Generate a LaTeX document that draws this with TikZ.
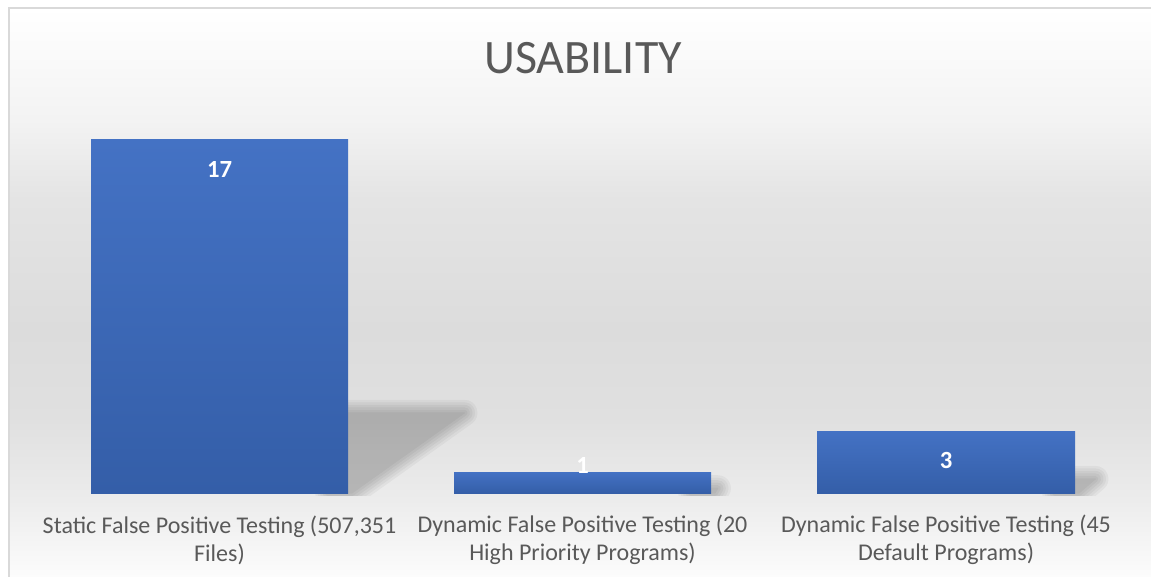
\documentclass[tikz,border=0pt]{standalone}
\usepackage{fontspec}
\setmainfont{Carlito}
\usepackage{tikz}
\usetikzlibrary{positioning}
\definecolor{barblue}{RGB}{68,114,196}
\definecolor{bardark}{RGB}{52,94,168}
\definecolor{textgray}{RGB}{89,89,89}
\definecolor{framegray}{RGB}{217,217,217}
% backdrop stops, bottom to top
\definecolor{bgbot}{RGB}{252,252,252}
\definecolor{bgA}{RGB}{236,236,236}
\definecolor{bgB}{RGB}{224,224,224}
\definecolor{bgC}{RGB}{220,220,220}
\definecolor{bgD}{RGB}{228,228,228}
\definecolor{bgE}{RGB}{243,243,243}
\pgfdeclareverticalshading{chartbg}{100bp}{color(0bp)=(bgbot); color(25bp)=(bgbot);
  color(31.8bp)=(bgA); color(38.8bp)=(bgB); color(46.7bp)=(bgC); color(58.2bp)=(bgD);
  color(65.2bp)=(bgE); color(75bp)=(white); color(100bp)=(white)}

\begin{document}
\begin{tikzpicture}[x=0.75pt,y=-0.75pt,
  bar/.style = {top color=barblue, bottom color=bardark, draw=none},
  val/.style = {anchor=base, inner sep=0pt, text=white,
    font=\fontsize{18.5}{21}\selectfont\bfseries},
  cat/.style = {align=center, inner sep=0pt, text=textgray,
    font=\fontsize{18}{21}\selectfont}
]
  \useasboundingbox (0,0) rectangle (1151,577);
  \clip (0,0) rectangle (1151,577);

  % chart area
  \shade[shading=chartbg] (9,8) rectangle (1151,577);
  \draw[framegray, line width=1.5pt] (9,8) rectangle (1170,600);

  \node[anchor=base, inner sep=0pt, text=textgray, font=\fontsize{36}{40}\selectfont]
    (title) at (583,74) {USABILITY};

  % soft cast shadows (right edge / bar height)
  \begin{scope}
    \clip (9,8) rectangle (1151,495);
    \foreach \xr/\h in {348/353, 711/21, 1075/62}{
      \foreach \w in {1,6,11,16,21,26}{
        \begin{scope}[transparency group, opacity=0.038]
          \filldraw[black, line width=\w*0.75pt, line join=round]
            (\xr-20,493-0.227*\h) -- (\xr+0.33*\h,493-0.227*\h)
            -- (\xr+4,493) -- (\xr-20,493) -- cycle;
        \end{scope}
      }
    }
  \end{scope}

  % bars
  \shade[bar] (91,140)  rectangle (348,493);
  \shade[bar] (454,472) rectangle (711,493);
  \shade[bar] (817,431) rectangle (1075,493);

  \node[val] (v17) at (219.5,178) {17};
  \node[val] (v1)  at (582.5,473) {1};
  \node[val] (v3)  at (946,468)   {3};

  \node[cat] (static)   at (219.5,540) {Static False Positive Testing (507,351\\Files)};
  \node[cat] (highprio) at (582.5,540) {Dynamic False Positive Testing (20\\High Priority Programs)};
  \node[cat] (default)  at (946,540)   {Dynamic False Positive Testing (45\\Default Programs)};
\end{tikzpicture}
\end{document}
